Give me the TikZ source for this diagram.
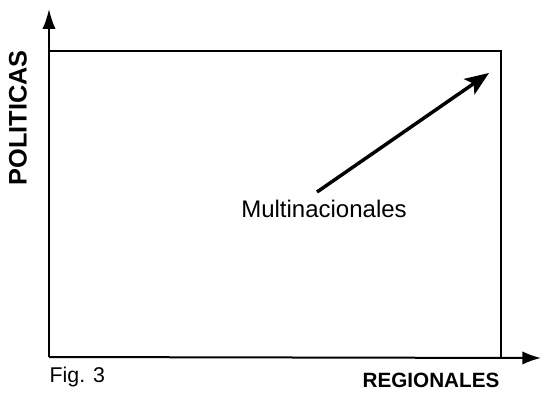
\documentclass[tikz,border=0pt]{standalone}
\usepackage{fontspec}
\setmainfont{Liberation Sans}
\usetikzlibrary{arrows.meta}

\begin{document}
\begin{tikzpicture}[x=0.75pt,y=-0.75pt,font=\fontsize{16}{19}\selectfont]
		\useasboundingbox (0,0) rectangle (541,392);
		\draw[line width=1.5pt,-{Latex[length=15pt,width=10pt]}] (49,357) coordinate (origin)--(49,9) coordinate (y axis);
		\draw[line width=1.5pt,-{Latex[length=14pt,width=10pt]}] (origin)--(541,358) coordinate (x axis);
		\draw[line width=1pt] (49,51)--(501,51)--(501,357);
		\draw[line width=2.6pt,-{Stealth[length=18pt,width=14pt,inset=4pt]}] (317,192) coordinate (start)--(489,73) coordinate (end);
		\node[font=\fontsize{18}{21}\selectfont] (multi) at (324,209) {Multinacionales};
		\node[font=\fontsize{19}{21}\selectfont\bfseries, rotate=90] (politicas) at (18,118) {POLITICAS};
		\node[font=\fontsize{15.5}{19}\selectfont\bfseries] (regionales) at (431,380) {REGIONALES};
		\node[anchor=west] (fig) at (45,377) {Fig. 3};
	\end{tikzpicture}
\end{document}
